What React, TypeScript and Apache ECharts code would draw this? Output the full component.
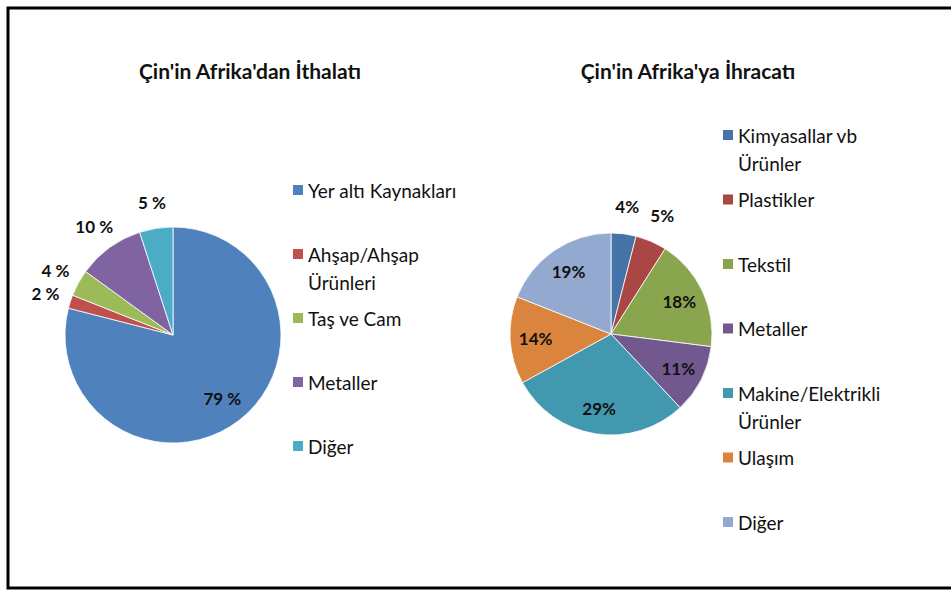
import React, { useEffect, useRef } from "react";
import * as echarts from "echarts";

const titles = ["Çin'in Afrika'dan İthalatı", "Çin'in Afrika'ya İhracatı"];

const importCategories = ["Yer altı Kaynakları", "Ahşap/Ahşap Ürünleri", "Taş ve Cam", "Metaller", "Diğer"];
const importValues = [79, 2, 4, 10, 5];
const importColors = ["#4F81BD", "#C0504D", "#9BBB59", "#8064A2", "#4BACC6"];
const importOutsideLabels = [1, 2, 3, 4];

const exportCategories = [
  "Kimyasallar vb Ürünler",
  "Plastikler",
  "Tekstil",
  "Metaller",
  "Makine/Elektrikli Ürünler",
  "Ulaşım",
  "Diğer",
];
const exportValues = [4, 5, 18, 11, 29, 14, 19];
const exportColors = ["#4674A9", "#AA4643", "#89A54E", "#71588F", "#4198AF", "#DB843D", "#93A9CF"];
const exportOutsideLabels = [0, 1];

const FONT = "Lato, 'Open Sans', sans-serif";
const LINE = 28;

const wrapName = (name: string) => name.replace(/ (Ürün)/, "\n$1");
const richName = (name: string) =>
  wrapName(name)
    .split("\n")
    .map((s) => `{a|${s}}`)
    .join("\n");

function buildPie(
  center: [number, number],
  r: number,
  names: string[],
  values: number[],
  colors: string[],
  outside: number[],
  fmt: string,
  innerRing: [number, number],
  outerRing: [number, number]
) {
  const base = names.map((n, i) => ({ name: n, value: values[i] }));
  const labelStyle = {
    fontFamily: FONT,
    fontSize: 17,
    fontWeight: "bold" as const,
    color: "#111",
    formatter: fmt,
  };
  const common = {
    type: "pie" as const,
    center,
    startAngle: 90,
    clockwise: true,
    silent: true,
    avoidLabelOverlap: false,
    labelLine: { show: false },
    emphasis: { disabled: true },
  };
  return [
    {
      ...common,
      radius: [0, r],
      data: base.map((d, i) => ({ ...d, itemStyle: { color: colors[i] } })),
      itemStyle: { borderColor: "#ffffff", borderWidth: 0.8 },
      label: { show: false },
    },
    {
      ...common,
      radius: innerRing,
      itemStyle: { color: "rgba(0,0,0,0)", borderWidth: 0 },
      label: { ...labelStyle, position: "inside" },
      data: base.map((d, i) => ({ ...d, label: { show: !outside.includes(i) } })),
    },
    {
      ...common,
      radius: outerRing,
      itemStyle: { color: "rgba(0,0,0,0)", borderWidth: 0 },
      label: { ...labelStyle, position: "inside" },
      data: base.map((d, i) => ({ ...d, label: { show: outside.includes(i) } })),
    },
  ];
}

function buildLegend(names: string[], colors: string[], left: number, top: number, gap: number) {
  return {
    orient: "vertical" as const,
    left,
    top,
    padding: 0,
    itemWidth: 10,
    itemHeight: 10,
    itemGap: gap,
    icon: "rect",
    selectedMode: false,
    formatter: richName,
    textStyle: {
      fontFamily: FONT,
      fontSize: 19,
      color: "#111",
      lineHeight: LINE,
      backgroundColor: "rgba(255,255,255,0)",
      rich: {
        a: { fontFamily: FONT, fontSize: 19, color: "#111", lineHeight: LINE },
      },
    },
    data: names.map((n, i) => {
      const twoLines = wrapName(n).includes("\n");
      return {
        name: n,
        itemStyle: { color: colors[i], borderWidth: 0 },
        textStyle: { padding: twoLines ? [LINE, 0, 0, 0] : [LINE, 0, LINE, 0] },
      };
    }),
  };
}

export default function App() {
  const ref = useRef<HTMLDivElement>(null);

  useEffect(() => {
    if (!ref.current) return;
    const chart = echarts.init(ref.current, undefined, { renderer: "svg" });
    const titleStyle = { fontFamily: FONT, fontSize: 21, fontWeight: "bold", color: "#111" };
    const option = {
      animation: false,
      backgroundColor: "#ffffff",
      title: [
        { text: titles[0], left: 250, top: 60, padding: 0, textAlign: "center", textStyle: titleStyle },
        { text: titles[1], left: 688, top: 60, padding: 0, textAlign: "center", textStyle: titleStyle },
      ],
      legend: [
        buildLegend(importCategories, importColors, 293, 148, -20),
        buildLegend(exportCategories, exportColors, 723, 93, -19.5),
      ],
      graphic: [
        {
          type: "rect",
          shape: { x: 8, y: 8, width: 1000, height: 580 },
          style: { fill: "none", stroke: "#000", lineWidth: 3 },
          silent: true,
          z: 10,
        },
      ],
      series: [
        ...buildPie([173, 335], 108, importCategories, importValues, importColors, importOutsideLabels, "{c} %", [47, 108], [118, 144]),
        ...buildPie([611, 334], 101, exportCategories, exportValues, exportColors, exportOutsideLabels, "{c}%", [44, 101], [113, 139]),
      ],
    };
    chart.setOption(option as any);
    return () => chart.dispose();
  }, []);

  return (
    <div
      ref={ref}
      style={{ position: "fixed", left: 0, top: 0, width: 951, height: 590, background: "#fff" }}
    />
  );
}
